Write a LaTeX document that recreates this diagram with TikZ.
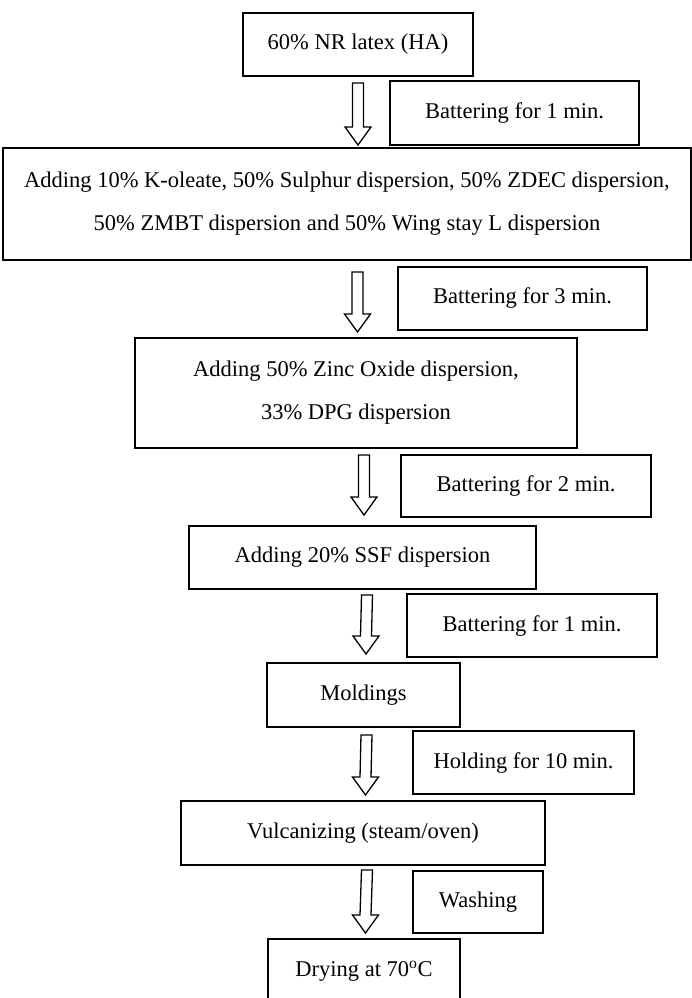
\documentclass[tikz,border=0pt]{standalone}
\usepackage{fontspec}
\setmainfont{Liberation Serif}
\usetikzlibrary{calc}
\tikzset{
  x=1pt, y=-1pt,
  stepbox/.style={draw, line width=1.8pt, inner sep=0pt, align=center,
    font=\fontsize{22.5}{43}\selectfont},
  notebox/.style={stepbox, line width=1.5pt},
  arrowline/.style={draw, line width=1.3pt, line join=miter},
}
\newcommand\hollowarrow[2]{%
  \draw[arrowline] ($(#1)+(-5.5,0)$) -- ($(#2)+(-5.5,-18)$) -- ($(#2)+(-13,-18)$)
    -- (#2) -- ($(#2)+(13,-18)$) -- ($(#2)+(5.5,-18)$) -- ($(#1)+(5.5,0)$) -- cycle;}
\begin{document}
\begin{tikzpicture}
\useasboundingbox (0,0) rectangle (692,998);
\clip (0,0) rectangle (692,998);
\fill[white] (0,0) rectangle (692,998);

\node[stepbox, minimum width=230pt, minimum height=63pt] (n1) at (358,44.5) {60\% NR latex (HA)};
\node[notebox, minimum width=249pt, minimum height=64pt] (b1) at (514.5,113) {Battering for 1 min.};
\node[stepbox, minimum width=688pt, minimum height=112pt] (n2) at (347,204)
  {Adding 10\% K-oleate, 50\% Sulphur dispersion, 50\% ZDEC dispersion,\\
   50\% ZMBT dispersion and 50\% Wing stay L dispersion};
\node[notebox, minimum width=249pt, minimum height=63pt] (b3) at (522.5,298.5) {Battering for 3 min.};
\node[stepbox, minimum width=442pt, minimum height=110pt] (n3) at (356,393)
  {Adding 50\% Zinc Oxide dispersion,\\ 33\% DPG dispersion};
\node[notebox, minimum width=250pt, minimum height=62pt] (b2) at (526,486) {Battering for 2 min.};
\node[stepbox, minimum width=347pt, minimum height=63pt] (n4) at (362.5,557.5) {Adding 20\% SSF dispersion};
\node[notebox, minimum width=250pt, minimum height=63pt] (b4) at (532,625.5) {Battering for 1 min.};
\node[stepbox, minimum width=193pt, minimum height=64pt] (n5) at (363.5,695) {Moldings};
\node[notebox, minimum width=221pt, minimum height=63pt] (b5) at (523.5,762.5) {Holding for 10 min.};
\node[stepbox, minimum width=364pt, minimum height=64pt] (n6) at (363,833) {Vulcanizing (steam/oven)};
\node[notebox, minimum width=130pt, minimum height=62pt] (b6) at (478,902) {Washing};
\node[stepbox, minimum width=192pt, minimum height=64pt] (n7) at (364,971) {Drying at 70\textsuperscript{o}C};

\coordinate (a1t) at (358,83);  \coordinate (a1b) at (358,145);
\coordinate (a2t) at (357.5,272); \coordinate (a2b) at (357.5,332);
\coordinate (a3t) at (364,455); \coordinate (a3b) at (364,515);
\coordinate (a4t) at (367,595); \coordinate (a4b) at (366,654);
\coordinate (a5t) at (366.5,735); \coordinate (a5b) at (365.5,795);
\coordinate (a6t) at (367,870); \coordinate (a6b) at (365.5,933);
\hollowarrow{a1t}{a1b}
\hollowarrow{a2t}{a2b}
\hollowarrow{a3t}{a3b}
\hollowarrow{a4t}{a4b}
\hollowarrow{a5t}{a5b}
\hollowarrow{a6t}{a6b}
\end{tikzpicture}
\end{document}
